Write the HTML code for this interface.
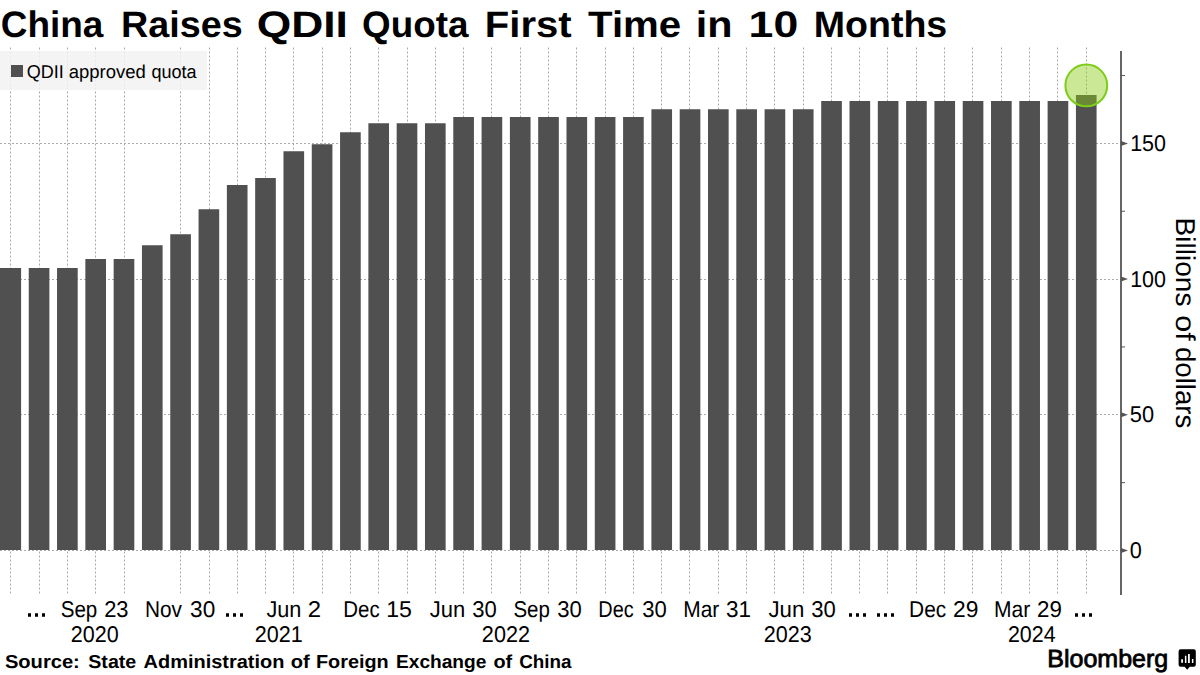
<!DOCTYPE html><html><head><meta charset="utf-8"><style>html,body{margin:0;padding:0;background:#fff;width:1200px;height:675px;overflow:hidden}svg{display:block}text{font-family:"Liberation Sans",sans-serif;text-rendering:geometricPrecision}</style></head><body><svg width="1200" height="675" viewBox="0 0 1200 675"><path d="M10.50 47.5V595 M39.50 47.5V595 M67.50 47.5V595 M95.50 47.5V595 M124.50 47.5V595 M180.50 47.5V595 M209.50 47.5V595 M237.50 47.5V595 M265.50 47.5V595 M293.50 47.5V595 M322.50 47.5V595 M350.50 47.5V595 M378.50 47.5V595 M407.50 47.5V595 M435.50 47.5V595 M463.50 47.5V595 M491.50 47.5V595 M520.50 47.5V595 M548.50 47.5V595 M576.50 47.5V595 M605.50 47.5V595 M633.50 47.5V595 M661.50 47.5V595 M689.50 47.5V595 M718.50 47.5V595 M746.50 47.5V595 M774.50 47.5V595 M803.50 47.5V595 M831.50 47.5V595 M859.50 47.5V595 M887.50 47.5V595 M916.50 47.5V595 M944.50 47.5V595 M972.50 47.5V595 M1001.50 47.5V595 M1029.50 47.5V595 M1057.50 47.5V595 M1086.50 47.5V595" stroke="#aaa" stroke-width="1" stroke-dasharray="2 2" fill="none"/><path d="M0 550.50H1121 M0 414.50H1121 M0 279.50H1121 M0 143.50H1121" stroke="#aaa" stroke-width="1" stroke-dasharray="2 2" fill="none"/><rect x="0" y="51" width="207" height="39" fill="#f2f2f2" fill-opacity="0.85"/><rect x="11" y="65" width="12" height="12" fill="#505050"/><path d="M0.00 268.1H21.10V550H0.00Z M28.75 268.1H49.40V550H28.75Z M57.05 268.1H77.70V550H57.05Z M85.36 259.1H106.01V550H85.36Z M113.66 259.1H134.31V550H113.66Z M141.96 245.3H162.61V550H141.96Z M170.26 234.2H190.91V550H170.26Z M198.56 209.2H219.21V550H198.56Z M226.87 185H247.52V550H226.87Z M255.17 178H275.82V550H255.17Z M283.47 151.2H304.12V550H283.47Z M311.77 144.2H332.42V550H311.77Z M340.07 132.2H360.72V550H340.07Z M368.38 123.3H389.03V550H368.38Z M396.68 123.3H417.33V550H396.68Z M424.98 123.3H445.63V550H424.98Z M453.28 117H473.93V550H453.28Z M481.58 117H502.23V550H481.58Z M509.89 117H530.54V550H509.89Z M538.19 117H558.84V550H538.19Z M566.49 117H587.14V550H566.49Z M594.79 117H615.44V550H594.79Z M623.09 117H643.74V550H623.09Z M651.40 109.2H672.05V550H651.40Z M679.70 109.2H700.35V550H679.70Z M708.00 109.2H728.65V550H708.00Z M736.30 109.2H756.95V550H736.30Z M764.60 109.2H785.25V550H764.60Z M792.91 109.2H813.56V550H792.91Z M821.21 101.1H841.86V550H821.21Z M849.51 101.1H870.16V550H849.51Z M877.81 101.1H898.46V550H877.81Z M906.11 101.1H926.76V550H906.11Z M934.42 101.1H955.07V550H934.42Z M962.72 101.1H983.37V550H962.72Z M991.02 101.1H1011.67V550H991.02Z M1019.32 101.1H1039.97V550H1019.32Z M1047.62 101.1H1068.27V550H1047.62Z M1075.93 95.1H1096.58V550H1075.93Z" fill="#505050"/><path d="M1121 51V595" stroke="#555" stroke-width="1.8"/><path d="M1121 548.00L1128 550.50L1121 553.00Z" fill="#555"/><path d="M1121 412.30L1128 414.80L1121 417.30Z" fill="#555"/><path d="M1121 276.60L1128 279.10L1121 281.60Z" fill="#555"/><path d="M1121 140.90L1128 143.40L1121 145.90Z" fill="#555"/><path d="M1121 482.65H1125" stroke="#555" stroke-width="1"/><path d="M1121 346.95H1125" stroke="#555" stroke-width="1"/><path d="M1121 211.25H1125" stroke="#555" stroke-width="1"/><path d="M1121 75.55H1125" stroke="#555" stroke-width="1"/><circle cx="1086.3" cy="85.4" r="20.9" fill="rgb(140,205,25)" fill-opacity="0.45" stroke="#7dcc1a" stroke-width="2"/><path d="M28 613.2h3v3.6h-3z M35 613.2h3v3.6h-3z M42 613.2h3v3.6h-3z M226 613.2h3v3.6h-3z M233 613.2h3v3.6h-3z M240 613.2h3v3.6h-3z M849 613.2h3v3.6h-3z M856 613.2h3v3.6h-3z M863 613.2h3v3.6h-3z M877 613.2h3v3.6h-3z M884 613.2h3v3.6h-3z M891 613.2h3v3.6h-3z M1075 613.2h3v3.6h-3z M1082 613.2h3v3.6h-3z M1089 613.2h3v3.6h-3z" fill="#000"/><text x="0.73" y="36.7" font-size="36.9" font-weight="bold" textLength="102.61" lengthAdjust="spacingAndGlyphs">China</text><text x="121.14" y="36.7" font-size="36.9" font-weight="bold" textLength="121.64" lengthAdjust="spacingAndGlyphs">Raises</text><text x="256.76" y="36.7" font-size="36.9" font-weight="bold" textLength="91.14" lengthAdjust="spacingAndGlyphs">QDII</text><text x="362.07" y="36.7" font-size="36.9" font-weight="bold" textLength="106.35" lengthAdjust="spacingAndGlyphs">Quota</text><text x="484.8" y="36.7" font-size="36.9" font-weight="bold" textLength="86.85" lengthAdjust="spacingAndGlyphs">First</text><text x="588.09" y="36.7" font-size="36.9" font-weight="bold" textLength="93.13" lengthAdjust="spacingAndGlyphs">Time</text><text x="695.79" y="36.7" font-size="36.9" font-weight="bold" textLength="36.72" lengthAdjust="spacingAndGlyphs">in</text><text x="748.58" y="36.7" font-size="36.9" font-weight="bold" textLength="49.63" lengthAdjust="spacingAndGlyphs">10</text><text x="813.81" y="36.7" font-size="36.9" font-weight="bold" textLength="133.46" lengthAdjust="spacingAndGlyphs">Months</text><text x="26.78" y="77.8" font-size="18.5" textLength="37.05" lengthAdjust="spacingAndGlyphs">QDII</text><text x="68.79" y="77.8" font-size="18.5" textLength="77.09" lengthAdjust="spacingAndGlyphs">approved</text><text x="151.39" y="77.8" font-size="18.5" textLength="45.22" lengthAdjust="spacingAndGlyphs">quota</text><text x="4.91" y="667.9" font-size="18.75" font-weight="bold" textLength="74.91" lengthAdjust="spacingAndGlyphs">Source:</text><text x="88.26" y="667.9" font-size="18.75" font-weight="bold" textLength="48.01" lengthAdjust="spacingAndGlyphs">State</text><text x="143.55" y="667.9" font-size="18.75" font-weight="bold" textLength="140.85" lengthAdjust="spacingAndGlyphs">Administration</text><text x="290.86" y="667.9" font-size="18.75" font-weight="bold" textLength="18.94" lengthAdjust="spacingAndGlyphs">of</text><text x="316.0" y="667.9" font-size="18.75" font-weight="bold" textLength="72.7" lengthAdjust="spacingAndGlyphs">Foreign</text><text x="396.06" y="667.9" font-size="18.75" font-weight="bold" textLength="90.3" lengthAdjust="spacingAndGlyphs">Exchange</text><text x="493.47" y="667.9" font-size="18.75" font-weight="bold" textLength="18.75" lengthAdjust="spacingAndGlyphs">of</text><text x="519.15" y="667.9" font-size="18.75" font-weight="bold" textLength="52.24" lengthAdjust="spacingAndGlyphs">China</text><text x="1047.24" y="666.8" font-size="24.8" stroke="#000" stroke-width="0.8" textLength="120.99" lengthAdjust="spacingAndGlyphs">Bloomberg</text><text x="60.67" y="616.8" font-size="22.8" textLength="36.6" lengthAdjust="spacingAndGlyphs">Sep</text><text x="104.19" y="616.8" font-size="22.8" textLength="24.34" lengthAdjust="spacingAndGlyphs">23</text><text x="145.05" y="616.8" font-size="22.8" textLength="36.94" lengthAdjust="spacingAndGlyphs">Nov</text><text x="190.09" y="616.8" font-size="22.8" textLength="25.13" lengthAdjust="spacingAndGlyphs">30</text><text x="266.43" y="616.8" font-size="22.8" textLength="34.99" lengthAdjust="spacingAndGlyphs">Jun</text><text x="307.88" y="616.8" font-size="22.8" textLength="13.32" lengthAdjust="spacingAndGlyphs">2</text><text x="343.31" y="616.8" font-size="22.8" textLength="36.38" lengthAdjust="spacingAndGlyphs">Dec</text><text x="386.25" y="616.8" font-size="22.8" textLength="25.67" lengthAdjust="spacingAndGlyphs">15</text><text x="429.87" y="616.8" font-size="22.8" textLength="35.46" lengthAdjust="spacingAndGlyphs">Jun</text><text x="472.16" y="616.8" font-size="22.8" textLength="24.55" lengthAdjust="spacingAndGlyphs">30</text><text x="513.4" y="616.8" font-size="22.8" textLength="36.44" lengthAdjust="spacingAndGlyphs">Sep</text><text x="557.16" y="616.8" font-size="22.8" textLength="24.55" lengthAdjust="spacingAndGlyphs">30</text><text x="598.29" y="616.8" font-size="22.8" textLength="35.36" lengthAdjust="spacingAndGlyphs">Dec</text><text x="642.16" y="616.8" font-size="22.8" textLength="24.55" lengthAdjust="spacingAndGlyphs">30</text><text x="683.3" y="616.8" font-size="22.8" textLength="35.99" lengthAdjust="spacingAndGlyphs">Mar</text><text x="726.09" y="616.8" font-size="22.8" textLength="25.0" lengthAdjust="spacingAndGlyphs">31</text><text x="768.41" y="616.8" font-size="22.8" textLength="35.84" lengthAdjust="spacingAndGlyphs">Jun</text><text x="811.16" y="616.8" font-size="22.8" textLength="24.55" lengthAdjust="spacingAndGlyphs">30</text><text x="909.07" y="616.8" font-size="22.8" textLength="37.13" lengthAdjust="spacingAndGlyphs">Dec</text><text x="952.95" y="616.8" font-size="22.8" textLength="25.38" lengthAdjust="spacingAndGlyphs">29</text><text x="993.98" y="616.8" font-size="22.8" textLength="36.24" lengthAdjust="spacingAndGlyphs">Mar</text><text x="1037.1" y="616.8" font-size="22.8" textLength="24.83" lengthAdjust="spacingAndGlyphs">29</text><text x="70.87" y="641.8" font-size="22.8" textLength="47.94" lengthAdjust="spacingAndGlyphs">2020</text><text x="254.87" y="641.8" font-size="22.8" textLength="48.01" lengthAdjust="spacingAndGlyphs">2021</text><text x="481.87" y="641.8" font-size="22.8" textLength="48.07" lengthAdjust="spacingAndGlyphs">2022</text><text x="763.87" y="641.8" font-size="22.8" textLength="47.96" lengthAdjust="spacingAndGlyphs">2023</text><text x="1007.88" y="641.8" font-size="22.8" textLength="47.69" lengthAdjust="spacingAndGlyphs">2024</text><text x="1130.16" y="150.89999999999998" font-size="22.8" textLength="35.82" lengthAdjust="spacingAndGlyphs">150</text><text x="1130.16" y="286.6" font-size="22.8" textLength="35.82" lengthAdjust="spacingAndGlyphs">100</text><text x="1129.82" y="422.3" font-size="22.8" textLength="24.26" lengthAdjust="spacingAndGlyphs">50</text><text x="1129.8" y="558.0" font-size="22.8" textLength="12.05" lengthAdjust="spacingAndGlyphs">0</text><text transform="translate(1175.9,217.48) rotate(90)" font-size="27.2" textLength="88.99" lengthAdjust="spacingAndGlyphs">Billions</text><text transform="translate(1175.9,315.23) rotate(90)" font-size="27.2" textLength="25.39" lengthAdjust="spacingAndGlyphs">of</text><text transform="translate(1175.9,346.96) rotate(90)" font-size="27.2" textLength="81.35" lengthAdjust="spacingAndGlyphs">dollars</text><path d="M1180.6 649.3H1193.8Q1195.8 649.3 1195.8 651.3V664.7Q1195.8 666.7 1193.8 666.7H1189.8L1187.2 669.8L1184.6 666.7H1180.6Q1178.6 666.7 1178.6 664.7V651.3Q1178.6 649.3 1180.6 649.3Z" fill="#000"/><path d="M1181.2 659.2h1.8v3.6h-1.8zM1184.9 655.8h1.5v7.2h-1.5zM1188 654h1.8v9h-1.8zM1191.9 659h1.5v4h-1.5z" fill="#fff"/></svg></body></html>
